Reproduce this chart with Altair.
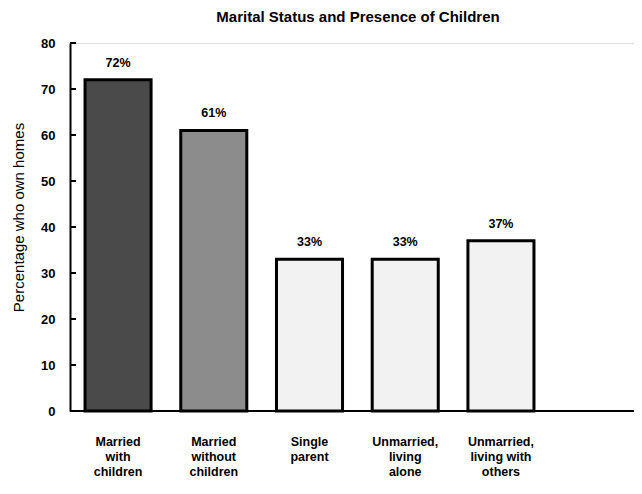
import altair as alt
import pandas as pd

categories = ["Married|with|children", "Married|without|children", "Single|parent",
              "Unmarried,|living|alone", "Unmarried,|living with|others"]
values = [72, 61, 33, 33, 37]
labels = ["72%", "61%", "33%", "33%", "37%"]
fills = ["#4a4a4a", "#8c8c8c", "#f2f2f2", "#f2f2f2", "#f2f2f2"]
y_ticks = [0, 10, 20, 30, 40, 50, 60, 70, 80]

W, H = 564, 368
FONT = "Liberation Sans"

df = pd.DataFrame({"cat": categories, "val": values, "lab": labels})

x = alt.X("cat:N", sort=categories, title=None,
          scale=alt.Scale(range=[0, 479], paddingInner=0.31, paddingOuter=0.157),
          axis=alt.Axis(labelExpr="split(datum.value, '|')", labelAngle=0, domain=False,
                        ticks=False, labelPadding=24, labelFont=FONT, labelFontSize=12.5,
                        labelFontWeight="bold", labelColor="black", labelLineHeight=15,
                        labelBaseline="top"))
y = alt.Y("val:Q", title="Percentage who own homes",
          scale=alt.Scale(domain=[0, 80], nice=False),
          axis=alt.Axis(values=y_ticks, ticks=False, labelPadding=15, grid=False,
                        domainColor="black", domainWidth=2, labelFont=FONT,
                        labelFontSize=13, labelFontWeight="bold", labelColor="black",
                        titleFont=FONT, titleFontSize=15, titleFontWeight="normal",
                        titleColor="black", titlePadding=14, titleY=174))

bars = alt.Chart(df).mark_bar(stroke="black", strokeWidth=3).encode(
    x=x, y=y,
    fill=alt.Fill("cat:N", scale=alt.Scale(domain=categories, range=fills), legend=None),
)
text = alt.Chart(df).mark_text(dy=-10, baseline="bottom", font=FONT, fontSize=12.5,
                               fontWeight="bold", color="black").encode(
    x=alt.X("cat:N", sort=categories), y="val:Q", text="lab:N")

base = alt.Chart(pd.DataFrame({"val": [0]})).mark_rule(color="black", strokeWidth=2).encode(
    y="val:Q", x=alt.value(0), x2=alt.value(W))
ticks = alt.Chart(pd.DataFrame({"val": y_ticks})).mark_rule(color="black", strokeWidth=2).encode(
    y="val:Q", x=alt.value(0), x2=alt.value(6))

chart = alt.layer(bars, text, base, ticks).properties(
    width=W, height=H,
    autosize=alt.AutoSizeParams(type="none"),
    padding={"left": 62, "top": 35, "right": 0, "bottom": 70},
    title=alt.TitleParams("Marital Status and Presence of Children", font=FONT,
                          fontSize=15, fontWeight="bold", anchor="middle", offset=12,
                          dx=6, color="black"),
).configure_view(stroke=None).configure(background="white")

chart.save("out.html", embed_options={"renderer": "svg", "actions": False})
